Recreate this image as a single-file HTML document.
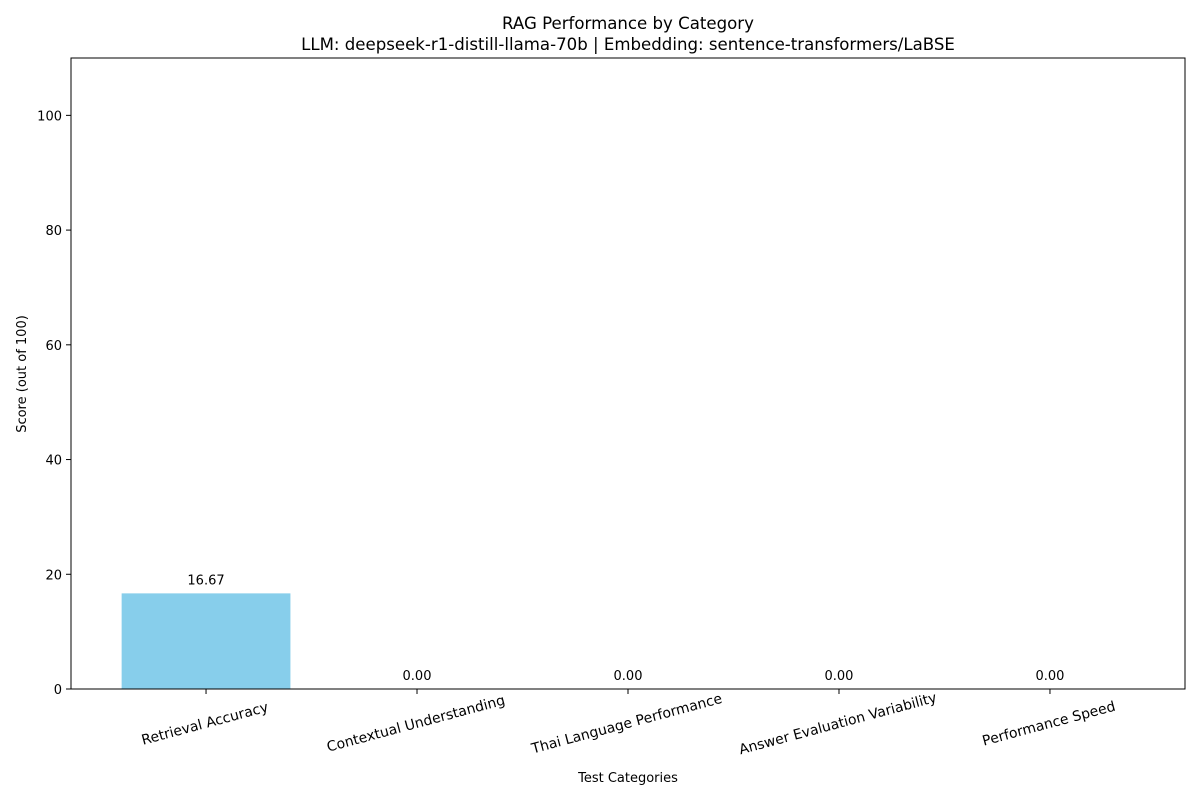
<!DOCTYPE html>
<html><head><meta charset="utf-8"><style>
body{margin:0;background:#fff;}
svg{font-family:"DejaVu Sans","Liberation Sans",sans-serif;}
</style></head><body>
<svg id="chart" width="1200" height="800" xmlns="http://www.w3.org/2000/svg">
<rect width="1200" height="800" fill="#fff"/>
<text x="628" y="29" font-size="16.6" text-anchor="middle">RAG Performance by Category</text>
<text x="628" y="50" font-size="16.6" text-anchor="middle">LLM: deepseek-r1-distill-llama-70b | Embedding: sentence-transformers/LaBSE</text>
<g id="plot"></g>
<text x="628" y="782" font-size="13" text-anchor="middle">Test Categories</text>
<text transform="translate(26,374) rotate(-90)" font-size="13" text-anchor="middle">Score (out of 100)</text>
</svg>
<script>
const categories = ["Retrieval Accuracy","Contextual Understanding","Thai Language Performance","Answer Evaluation Variability","Performance Speed"];
const values = [16.67, 0, 0, 0, 0];
const yTicks = [0, 20, 40, 60, 80, 100];

const L=71,R=1185,T=58,B=689,yMax=110;
const n=categories.length;
const xMin=-0.64,xMax=n-1+0.64;
const xs=i=>L+(i-xMin)/(xMax-xMin)*(R-L);
const ys=v=>B-v/yMax*(B-T);
const unit=(R-L)/(xMax-xMin);
const NS="http://www.w3.org/2000/svg";
const g=document.getElementById('plot');
function mk(tag,attrs){const e=document.createElementNS(NS,tag);for(const k in attrs)e.setAttribute(k,attrs[k]);g.appendChild(e);return e;}

values.forEach((v,i)=>{
  const bw=0.8*unit;
  const b=mk('rect',{x:xs(i)-bw/2,y:ys(v),width:bw,height:B-ys(v),fill:'#87ceeb'});
  
  
  const t=mk('text',{x:xs(i),y:ys(v)-9,'font-size':13,'text-anchor':'middle'});
  t.textContent=v.toFixed(2);
  
  
  const tk=mk('line',{x1:xs(i),x2:xs(i),y1:B,y2:B+5,stroke:'#000'});
  
  
  const lb=mk('text',{transform:`translate(${xs(i)},${B+39}) rotate(-15)`,'font-size':14,'text-anchor':'middle'});
  lb.textContent=categories[i];
  
  
});
yTicks.forEach(v=>{
  const tk=mk('line',{x1:L-5,x2:L,y1:ys(v),y2:ys(v),stroke:'#000'});
  
  
  const t=mk('text',{x:L-9,y:ys(v)+5,'font-size':13,'text-anchor':'end'});
  t.textContent=v;
  
  
});
const f=mk('rect',{x:L,y:T,width:R-L,height:B-T,fill:'none',stroke:'#000','stroke-width':1});


</script>
</body></html>
